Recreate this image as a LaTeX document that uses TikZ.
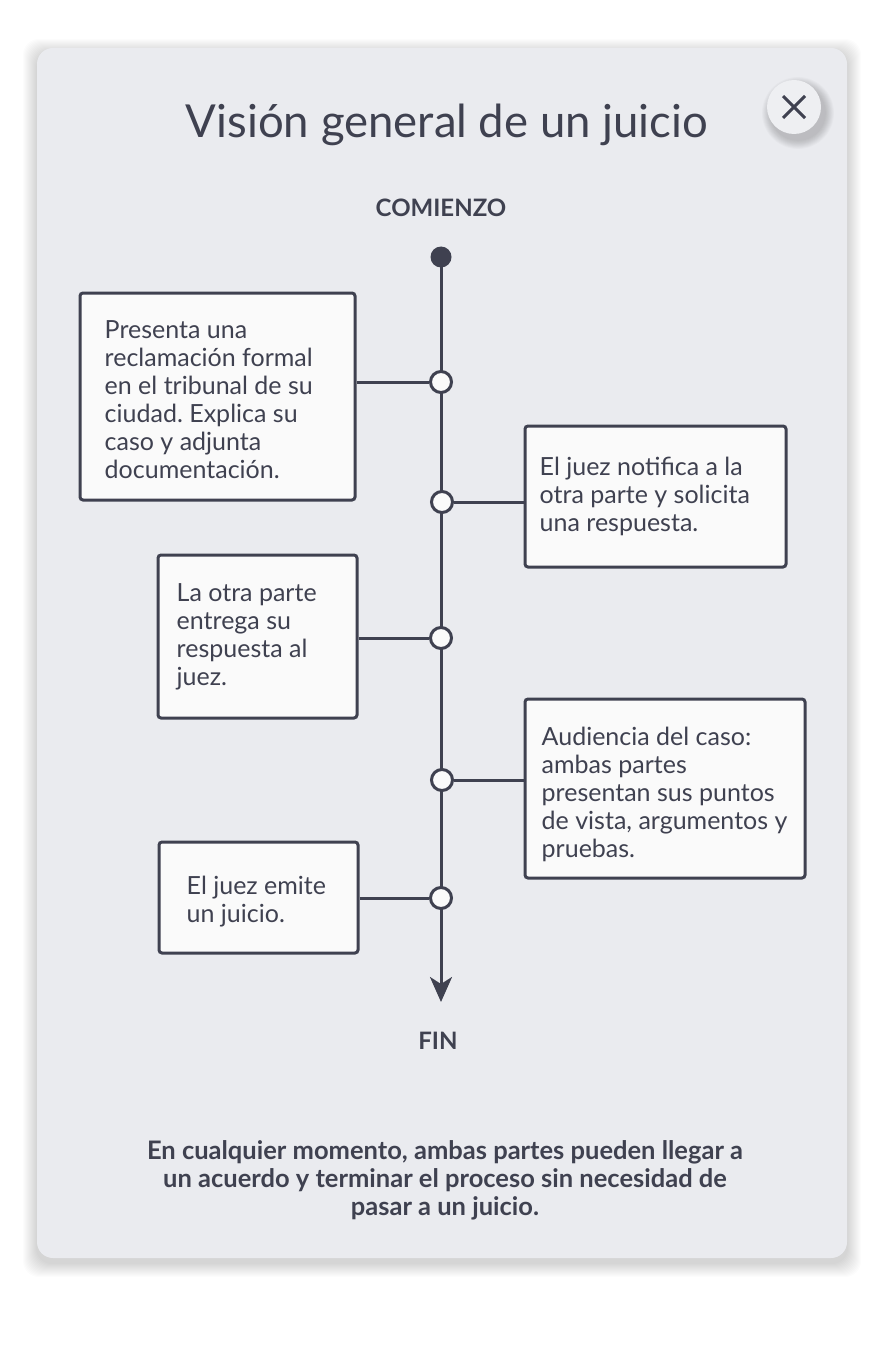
\documentclass[tikz,border=0pt]{standalone}
\usepackage{fontspec}
\setmainfont{Lato}
\usetikzlibrary{arrows.meta}
\frenchspacing
\definecolor{ink}{HTML}{3F4150}
\definecolor{card}{HTML}{EAEBEF}
\definecolor{boxfill}{HTML}{FAFAFA}
\definecolor{btn}{HTML}{EEEFF2}
\begin{document}
\begin{tikzpicture}[x=1pt,y=-1pt,
  stepbox/.style={draw=ink, line width=3pt, fill=boxfill, rounded corners=3pt, inner sep=0pt},
  steptext/.style={anchor=west, align=left, inner sep=0pt, text=ink, font=\fontsize{25}{28}\selectfont},
  knot/.style={circle, draw=ink, line width=3pt, fill=boxfill, minimum size=21pt, inner sep=0pt},
  link/.style={draw=ink, line width=3pt},
  heading/.style={text=ink, font=\fontsize{24}{28}\selectfont\bfseries, inner sep=0pt}
]
\useasboundingbox (0,0) rectangle (880,1356);
\fill[white] (0,0) rectangle (880,1356);
% card shadow
\foreach \i in {1,...,14}{
  \fill[black, opacity=0.011, rounded corners=16pt] (37-\i,48-\i+5) rectangle (847+\i,1258+\i+5);
}
\fill[card, rounded corners=16pt] (37,48) rectangle (847,1258);
% close button
\foreach \i in {1,...,10}{
  \fill[black, opacity=0.018] (798,113) circle (27+\i*0.9);
}
\fill[btn] (794,107) circle (27);
\node[inner sep=0pt, minimum size=27pt] (close) at (794,107) {};
\draw[ink, line width=3pt] ([xshift=-11,yshift=11]close.center) -- ([xshift=11,yshift=-11]close.center);
\draw[ink, line width=3pt] ([xshift=-11,yshift=-11]close.center) -- ([xshift=11,yshift=11]close.center);
% title
\node[text=ink, font=\fontsize{45.5}{50}\selectfont, inner sep=0pt] (title) at (447,125) {Visión general de un juicio};
\node[heading] (start) at (441,208) {COMIENZO};
\node[heading] (fin) at (438,1041) {FIN};
% timeline
\node[circle, fill=ink, minimum size=21pt, inner sep=0pt] (dot) at (441,257) {};
\coordinate (tip) at (441,1002);
\draw[link, -{Stealth[length=25pt, width=22pt, inset=7pt]}] (dot.center) -- (tip);
% boxes
\node[stepbox, minimum width=275pt, minimum height=207pt] (b1) at (217.5,396.5) {};
\node[steptext] (t1) at ([xshift=26,yshift=-3]b1.west) {Presenta una\\reclamación formal\\en el tribunal de su\\ciudad. Explica su\\caso y adjunta\\documentación.};
\node[stepbox, minimum width=261pt, minimum height=141pt] (b2) at (655.5,496.5) {};
\node[steptext] (t2) at ([xshift=16]b2.west) {El juez notifica a la\\otra parte y solicita\\una respuesta.};
\node[stepbox, minimum width=199pt, minimum height=163pt] (b3) at (257.5,636.5) {};
\node[steptext] (t3) at ([xshift=20]b3.west) {La otra parte\\entrega su\\respuesta al\\juez.};
\node[stepbox, minimum width=280pt, minimum height=179pt] (b4) at (665,788.5) {};
\node[steptext] (t4) at ([xshift=18,yshift=-6]b4.west) {Audiencia del caso:\\ambas partes\\presentan sus puntos\\de vista, argumentos y\\pruebas.};
\node[stepbox, minimum width=199pt, minimum height=111pt] (b5) at (258.5,897.5) {};
\node[steptext] (t5) at ([xshift=29,yshift=-4]b5.west) {El juez emite\\un juicio.};
% knots
\node[knot] (k1) at (441,382) {};
\node[knot] (k2) at (442,502) {};
\node[knot] (k3) at (441,638) {};
\node[knot] (k4) at (442,780) {};
\node[knot] (k5) at (441,898) {};
\draw[link] (k1.west -| b1.east) -- (k1.west);
\draw[link] (k2.east) -- (k2.east -| b2.west);
\draw[link] (k3.west -| b3.east) -- (k3.west);
\draw[link] (k4.east) -- (k4.east -| b4.west);
\draw[link] (k5.west -| b5.east) -- (k5.west);
% note
\node[text=ink, font=\fontsize{25.5}{28}\selectfont\bfseries, align=center, inner sep=0pt] (note) at (445,1180) {En cualquier momento, ambas partes pueden llegar a\\un acuerdo y terminar el proceso sin necesidad de\\pasar a un juicio.};
\end{tikzpicture}
\end{document}
